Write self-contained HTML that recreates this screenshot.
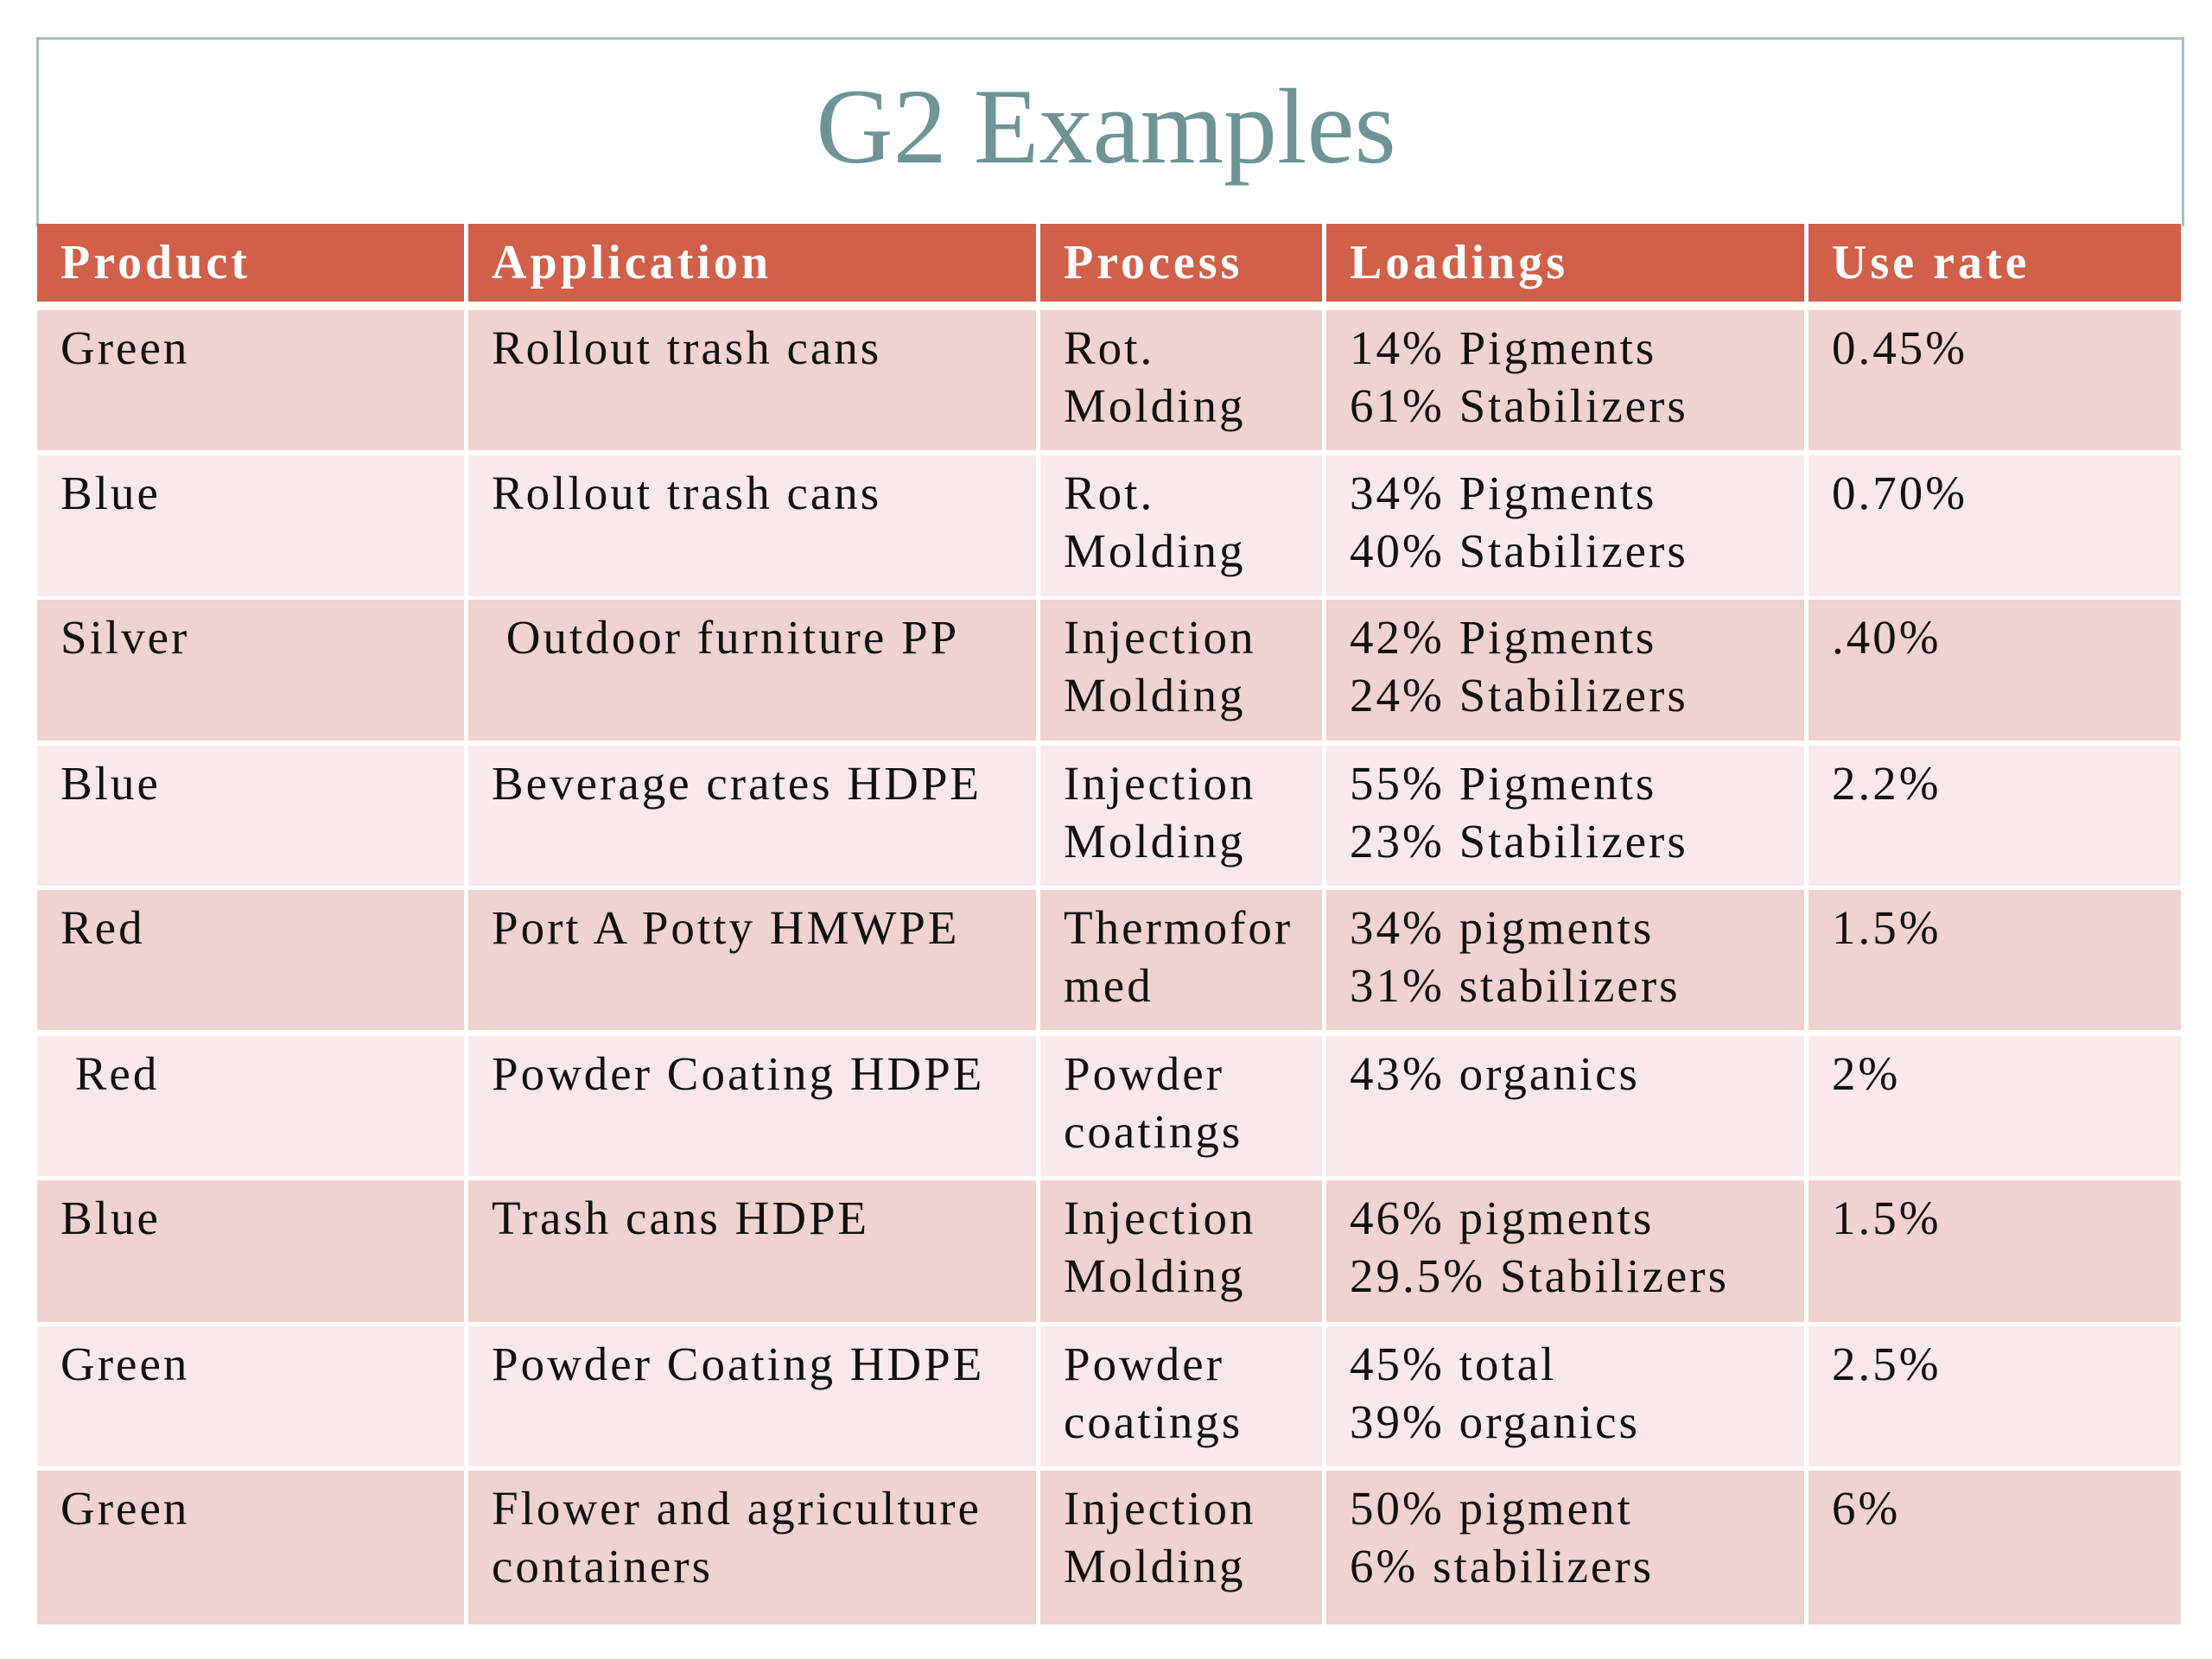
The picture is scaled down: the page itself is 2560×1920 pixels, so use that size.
<!DOCTYPE html>
<html><head><meta charset="utf-8"><style>
body{margin:0;width:2560px;height:1920px;background:#fff;position:relative;overflow:hidden;font-family:"Liberation Serif",serif;}
#tbox{position:absolute;left:42px;top:43px;width:2480px;height:216px;border:3px solid #a9c0c2;border-bottom:none;}
#title{position:absolute;left:0;width:2560px;top:72px;text-align:center;font-size:124px;color:#6e9495;line-height:150px;}
.c{position:absolute;box-sizing:border-box;padding-left:27px;font-size:55px;letter-spacing:3px;line-height:67px;color:#111;padding-top:10px;white-space:nowrap;}
.h{background:#d0604a;color:#fff;font-weight:bold;font-size:56px;letter-spacing:4px;line-height:90px;padding-top:0;}
.d{background:#efd2d1;}
.l{background:#f7e9e9;}
</style></head><body>
<div id="tbox"></div>
<div id="title">G2 Examples</div>
<div id="tbl"></div>
<script>
const headers=["Product","Application","Process","Loadings","Use rate"];
const rows=[
["Green","Rollout trash cans","Rot.<br>Molding","14% Pigments<br>61% Stabilizers","0.45%"],
["Blue","Rollout trash cans","Rot.<br>Molding","34% Pigments<br>40% Stabilizers","0.70%"],
["Silver","&nbsp;Outdoor furniture PP","Injection<br>Molding","42% Pigments<br>24% Stabilizers",".40%"],
["Blue","Beverage crates HDPE","Injection<br>Molding","55% Pigments<br>23% Stabilizers","2.2%"],
["Red","Port A Potty HMWPE","Thermofor<br>med","34% pigments<br>31% stabilizers","1.5%"],
["&nbsp;Red","Powder Coating HDPE","Powder<br>coatings","43% organics","2%"],
["Blue","Trash cans HDPE","Injection<br>Molding","46% pigments<br>29.5% Stabilizers","1.5%"],
["Green","Powder Coating HDPE","Powder<br>coatings","45% total<br>39% organics","2.5%"],
["Green","Flower and agriculture<br>containers","Injection<br>Molding","50% pigment<br>6% stabilizers","6%"]
];
const colX=[[43,537],[542,1199],[1204,1530],[1535,2088],[2093,2524]];
const rowY=[[359,521],[527,690],[694,857],[863,1025],[1030,1192],[1199,1361],[1366,1530],[1535,1697],[1702,1880]];
const names=["product","application","process","loadings","use-rate"];
const t=document.getElementById('tbl');
function cell(cls,x,y,w,h,html,nm){const d=document.createElement('div');d.className='c '+cls;
d.style.cssText=`left:${x}px;top:${y}px;width:${w}px;height:${h}px`;d.innerHTML=html;


t.appendChild(d);}
headers.forEach((h,i)=>cell('h',colX[i][0],259,colX[i][1]-colX[i][0],90,h,'header-'+names[i]));
rows.forEach((r,j)=>r.forEach((v,i)=>cell(j%2?'l':'d',colX[i][0],rowY[j][0],colX[i][1]-colX[i][0],rowY[j][1]-rowY[j][0],v,'cell-'+names[i]+'-row'+(j+1))));
</script>
</body></html>
